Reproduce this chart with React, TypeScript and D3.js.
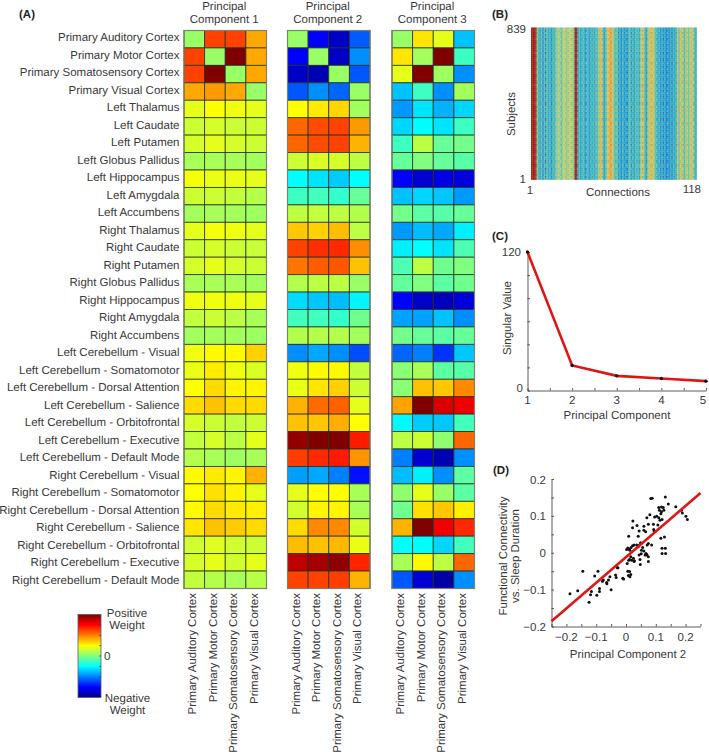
import * as d3 from 'd3';
import React, { useEffect, useRef } from 'react';

const regions = [
  'Primary Auditory Cortex', 'Primary Motor Cortex', 'Primary Somatosensory Cortex', 'Primary Visual Cortex',
  'Left Thalamus', 'Left Caudate', 'Left Putamen', 'Left Globus Pallidus', 'Left Hippocampus', 'Left Amygdala', 'Left Accumbens',
  'Right Thalamus', 'Right Caudate', 'Right Putamen', 'Right Globus Pallidus', 'Right Hippocampus', 'Right Amygdala', 'Right Accumbens',
  'Left Cerebellum - Visual', 'Left Cerebellum - Somatomotor', 'Left Cerebellum - Dorsal Attention', 'Left Cerebellum - Salience',
  'Left Cerebellum - Orbitofrontal', 'Left Cerebellum - Executive', 'Left Cerebellum - Default Mode',
  'Right Cerebellum - Visual', 'Right Cerebellum - Somatomotor', 'Right Cerebellum - Dorsal Attention', 'Right Cerebellum - Salience',
  'Right Cerebellum - Orbitofrontal', 'Right Cerebellum - Executive', 'Right Cerebellum - Default Mode',
];
const cortices = regions.slice(0, 4);

const pc1 = [
  [.05, .62, .62, .42], [.62, .05, 1, .42], [.62, 1, .05, .42], [.42, .45, .42, .05],
  [.2, .25, .22, .2], [.15, .17, .15, .15], [.17, .2, .17, .15], [.08, .08, .08, .07], [.23, .21, .21, .2], [.15, .15, .13, .1], [.07, .08, .07, .06],
  [.2, .23, .22, .2], [.15, .17, .15, .14], [.17, .2, .17, .15], [.08, .08, .08, .07], [.22, .22, .22, .2], [.13, .15, .12, .08], [.07, .07, .07, .06],
  [.22, .26, .26, .34], [.21, .29, .22, .18], [.25, .32, .27, .27], [.32, .37, .32, .32],
  [.17, .15, .13, .15], [.13, .17, .12, .2], [.1, .08, .06, .08],
  [.26, .29, .27, .4], [.25, .31, .27, .2], [.26, .32, .29, .28], [.3, .37, .35, .32],
  [.16, .19, .16, .15], [.17, .2, .16, .2], [.13, .1, .08, .11],
];
const pc2 = [
  [.05, -.75, -.88, -.57], [-.75, .05, -.88, -.47], [-.88, -.92, .05, -.58], [-.58, -.47, -.55, .05],
  [.25, .29, .33, .07], [.55, .6, .62, .45], [.55, .6, .62, .4], [.15, .18, .17, .12], [-.25, -.3, -.35, -.25], [-.13, -.12, -.15, -.05], [.12, .13, .12, .1],
  [.36, .34, .38, .12], [.62, .66, .67, .47], [.52, .57, .58, .37], [.1, .12, .12, .05], [-.32, -.36, -.38, -.27], [-.12, -.12, -.15, -.03], [.1, .1, .1, .07],
  [-.47, -.42, -.47, -.6], [.22, .26, .26, .13], [.21, .3, .34, .15], [.4, .54, .56, .2],
  [.37, .36, .41, .25], [.96, 1, 1, .7], [.63, .67, .7, .46],
  [-.44, -.42, -.5, -.72], [.2, .25, .25, .08], [.16, .27, .27, .08], [.32, .48, .48, .16],
  [.38, .37, .39, .21], [.88, .93, .97, .68], [.62, .62, .63, .4],
];
const pc3 = [
  [.05, .3, .2, -.37], [.3, .07, 1, -.13], [.2, 1, .06, -.47], [-.37, -.13, -.47, .07],
  [-.45, -.3, -.4, -.33], [-.33, -.25, -.3, -.13], [-.13, .12, -.05, -.02], [-.05, 0, -.05, -.08], [-.75, -.85, -.82, -.83], [-.37, -.33, -.36, -.45], [-.02, -.07, -.08, -.05],
  [-.45, -.38, -.42, -.28], [-.28, -.25, -.3, -.1], [-.1, .12, -.03, 0], [-.06, 0, -.07, -.03], [-.75, -.87, -.9, -.83], [-.43, -.43, -.37, -.47], [-.02, -.05, -.07, -.05],
  [-.55, -.5, -.65, -.36], [.02, .08, -.07, -.08], [.02, .37, .36, .48], [.43, 1, .82, .78],
  [-.26, -.35, -.36, -.12], [.12, .15, .03, .55], [-.5, -.85, -.92, -.47],
  [-.38, -.28, -.47, -.07], [.03, .2, .05, -.07], [-.03, .31, .36, .28], [.4, 1, .78, .67],
  [-.25, -.25, -.33, -.12], [.08, .26, .12, .55], [-.58, -.85, -.95, -.47],
];

// mean level of each of the 118 connections, on the 0-1 colour range
const connectionLevel = [
  .97, .97, .96, .93,
  .52, .4, .35, .48, .3, .46, .32, .48, .35, .44, .32, .42, .4, .48,
  .52, .58, .56, .48, .54, .6, .58, .52, .56, .62, .58, .56, .52,
  .95, .93,
  .35, .46, .33, .42, .46, .32, .4, .44, .33, .42, .38, .44, .36, .46,
  .44, .54, .68, .66, .42, .35, .46, .58, .68, .72, .7, .58, .46, .42, .48,
  .33, .4, .3, .42, .32, .38, .3,
  .42, .46, .35, .44, .33, .46, .4, .44, .38,
  .58, .68, .52, .4, .35, .54, .62, .7, .66, .58, .46,
  .44, .35, .42, .3, .4, .3, .38, .28, .36, .3, .4, .3, .42, .35, .4,
  .62, .46, .58, .68, .52, .44, .54, .64, .46, .6, .68, .56, .44, .38,
];
const subjectShift = [
  .04, -.06, .08, -.03, .02, -.08, .05, .09, -.04, -.07, .03, .06, -.09, .01, .07, -.02, -.05, .1, -.06, .02,
  .05, -.08, -.01, .08, -.04, .03, -.07, .06, .09, -.03, -.09, .04, .02, -.05, .07, -.02, .1, -.06, -.08, .03,
  .06, -.04, .01, .08, -.07, .05, -.03, -.09, .09, .02, -.05, .04, .07, -.08, -.01, .06, -.06, .03, .1, -.04,
  -.07, .05, .02, -.09, .08, -.02, .04, -.05, .07, .01, -.08, .06, -.03, .09, -.06, .03,
];
const connectionGain = [
  .7, -.4, .9, .2, -.7, .5, -.1, .8, -.6, .3, 1, -.3, .4, -.8, .6, .1, -.5, .9, -.2, .7, .2, -.9, .5, -.4, .8, .1, -.6, .3, .6,
];

const components = [1, 2, 3, 4, 5];
const singularValues = [120, 21.7, 12.7, 10.4, 8.1];

const pcScores = [
  -.188, -.162, -.145, -.124, -.119, -.116, -.105, -.098, -.094, -.089, -.089, -.079, -.076, -.065, -.064, -.059, -.05, -.054, -.035, -.033,
  -.029, -.027, -.011, -.008, .008, .013, .016, .006, .012, .004, .009, .012, .016, .019, .025, .028, .027, .047, .048, .051,
  .044, .052, .06, .056, .071, .075, .086, .067, .064, .07, .075, .069, .075, .006, .011, .013, .017, .022, .027, .002,
  .009, .022, .023, .037, .044, .041, .06, .06, .066, .075, .07, .08, .092, .093, .107, .096, .103, .11, .083, .088,
  .132, .142, .11, .119, .125, .112, .119, .127, .117, .121, .114, .095, .117, .129, .121, .132, .121, .133, .167, .186,
  .189, .201, .206, .036, .045, .049, .041,
];
const fcScores = [
  -.111, -.103, -.05, -.134, -.114, -.105, -.063, -.115, -.05, -.097, -.105, -.077, -.074, -.081, -.084, -.074, -.1, -.065, -.06, -.067,
  -.041, -.041, -.069, -.071, -.062, -.065, -.059, -.05, -.051, -.029, -.02, -.018, -.011, -.02, -.015, -.022, -.024, -.018, -.032, -.003,
  -.006, .007, .005, .014, .021, .025, .021, -.002, -.006, -.006, -.011, -.004, -.024, .013, .01, .007, .014, .019, .021, .009,
  .045, .068, .086, .074, .059, .045, .072, .061, .057, .077, .095, .103, .077, .063, .075, .097, .099, .095, .147, .148,
  .151, .132, .123, .124, .123, .115, .111, .115, .106, .09, .088, .058, .039, .043, .012, .012, -.002, -.002, .125, .115,
  .108, .099, .09, .021, .021, .027, .016,
];
const fitX = [-.25, .25];
const fitY = [-.186, .162];

const jet = d3.scaleLinear<string>()
  .domain([0, .125, .375, .625, .875, 1])
  .range(['#00008f', '#0000ff', '#00ffff', '#ffff00', '#ff0000', '#800000'])
  .clamp(true);
const weightColor = (v: number) => jet((v + 1) / 2);

// panel B reads as a washed out jet
const softJet = d3.scaleLinear<string>()
  .domain([.2, .33, .47, .62, .76, .95])
  .range(['#2058c0', '#20a0d8', '#62c4a8', '#cfd066', '#e89030', '#a02018'])
  .clamp(true);

const FONT = '"Liberation Sans", Arial, sans-serif';
const INK = '#3a3a3a';
const SIZE = 11.5;

const App = () => {
  const ref = useRef<SVGSVGElement>(null);

  useEffect(() => {
    const svg = d3.select(ref.current);
    svg.selectAll('*').remove();
    svg.style('font-family', FONT).style('text-rendering', 'geometricPrecision');

    const label = (x: number, y: number, txt: string, anchor = 'middle', rotate = false) => {
      const t = svg.append('text').text(txt).attr('font-size', SIZE).attr('text-anchor', anchor).attr('fill', INK);
      if (rotate) t.attr('transform', `translate(${x},${y}) rotate(-90)`);
      else t.attr('x', x).attr('y', y);
      return t;
    };
    const twoLines = (x: number, y: number, a: string, b: string, gap: number) => {
      const t = svg.append('text').attr('font-size', SIZE).attr('text-anchor', 'middle').attr('fill', INK);
      t.append('tspan').attr('x', x).attr('y', y).text(a);
      t.append('tspan').attr('x', x).attr('y', y + gap).text(b);
    };
    const panelTag = (x: number, y: number, txt: string) =>
      label(x, y, txt, 'start').attr('font-weight', 'bold').attr('fill', '#222');

    // (A) loadings
    panelTag(19, 18, '(A)');
    const top = 30.5;
    const bottom = 588.5;
    const rowY = d3.scaleBand<string>().domain(regions).range([top, bottom]);
    const labelY = d3.scalePoint<string>().domain(regions).range([37, 580]);
    regions.forEach(r => {
      label(179.5, labelY(r)! + 4, r, 'end');
    });

    const panels = [
      { data: pc1, x0: 184, x1: 266.5, name: 'Component 1' },
      { data: pc2, x0: 287.5, x1: 370, name: 'Component 2' },
      { data: pc3, x0: 392, x1: 474.5, name: 'Component 3' },
    ];
    panels.forEach(p => {
      const colX = d3.scaleBand<string>().domain(cortices).range([p.x0, p.x1]);
      const g = svg.append('g');
      p.data.forEach((row, ri) => {
        g.selectAll(null).data(row).enter().append('rect')
          .attr('x', (_, ci) => colX(cortices[ci])!)
          .attr('y', rowY(regions[ri])!)
          .attr('width', colX.bandwidth())
          .attr('height', rowY.bandwidth())
          .attr('fill', d => weightColor(d))
          .attr('stroke', '#23301e')
          .attr('stroke-opacity', .85)
          .attr('stroke-width', .9);
      });
      g.append('rect').attr('x', p.x0).attr('y', top).attr('width', p.x1 - p.x0).attr('height', bottom - top)
        .attr('fill', 'none').attr('stroke', '#7d8270').attr('stroke-width', 1.2);
      twoLines((p.x0 + p.x1) / 2 - 1, 10, 'Principal', p.name, 13);
      cortices.forEach(c => {
        label(colX(c)! + colX.bandwidth() / 2 + 1.7, 593, c, 'end', true);
      });
    });

    // colour key
    const keyY = d3.scaleLinear().domain([-1, 1]).range([697.5, 614.5]);
    const defs = svg.append('defs');
    const grad = defs.append('linearGradient').attr('id', 'jet-key').attr('x1', '0%').attr('y1', '100%').attr('x2', '0%').attr('y2', '0%');
    grad.selectAll('stop').data(jet.domain()).enter().append('stop')
      .attr('offset', d => `${d * 100}%`).attr('stop-color', d => jet(d));
    svg.append('rect').attr('x', 78).attr('y', keyY(1)).attr('width', 23).attr('height', keyY(-1) - keyY(1))
      .attr('fill', 'url(#jet-key)').attr('stroke', '#5a5a6a').attr('stroke-width', .8);
    svg.selectAll(null).data(d3.range(-.75, 1, .25)).enter().append('line')
      .attr('x1', 99).attr('x2', 101).attr('y1', d => keyY(d)).attr('y2', d => keyY(d))
      .attr('stroke', '#333').attr('stroke-width', .6);
    twoLines(127, 617, 'Positive', 'Weight', 11.5);
    label(104, 660, '0', 'start');
    twoLines(127.5, 702, 'Negative', 'Weight', 11.5);

    // (B) connections by subject
    panelTag(492, 18, '(B)');
    const cx = d3.scaleBand<number>().domain(d3.range(connectionLevel.length)).range([531, 696.5]);
    const sy = d3.scaleBand<number>().domain(d3.range(subjectShift.length)).range([179.5, 27.5]);
    defs.append('filter').attr('id', 'soft').attr('x', '0').attr('y', '0').attr('width', '100%').attr('height', '100%')
      .append('feGaussianBlur').attr('stdDeviation', .6);
    const heat = svg.append('g').attr('filter', 'url(#soft)');
    subjectShift.forEach((shift, s) => {
      heat.selectAll(null).data(connectionLevel).enter().append('rect')
        .attr('x', (_, c) => cx(c)!)
        .attr('y', sy(s)!)
        .attr('width', cx.bandwidth() + .3)
        .attr('height', sy.bandwidth() + .3)
        .attr('fill', (d, c) => softJet(d < .9 ? d + shift * connectionGain[c % connectionGain.length] : d + shift * .3));
    });
    label(526, 33, '839', 'end');
    label(526, 183, '1', 'end');
    label(515, 114, 'Subjects', 'middle', true);
    label(530, 194, '1');
    label(618, 195.5, 'Connections');
    label(701, 193, '118', 'end');

    // (C) scree plot
    panelTag(492, 240, '(C)');
    const xC = d3.scaleLinear().domain([1, 5]).range([527.5, 706]);
    const yC = d3.scaleLinear().domain([0, 120]).range([390.5, 252]);
    const gC = svg.append('g');
    gC.append('g').attr('transform', `translate(0,${yC(0)})`)
      .call(d3.axisBottom(xC).tickValues(d3.range(1, 5.01, .5)).tickSizeInner(-2.5).tickSizeOuter(0).tickFormat(() => ''));
    gC.append('g').attr('transform', `translate(${xC(1)},0)`)
      .call(d3.axisLeft(yC).tickValues(d3.range(0, 121, 20)).tickSizeInner(-2.5).tickSizeOuter(0).tickFormat(() => ''));
    gC.selectAll('.domain, .tick line').attr('stroke', '#333').attr('stroke-width', .8);
    const lineC = d3.line<number>().x((_, i) => xC(components[i])).y(d => yC(d));
    gC.append('path').attr('d', lineC(singularValues)).attr('fill', 'none').attr('stroke', '#e01515').attr('stroke-width', 2.6);
    gC.selectAll('circle').data(singularValues).enter().append('circle')
      .attr('cx', (_, i) => xC(components[i])).attr('cy', d => yC(d)).attr('r', 1.7).attr('fill', '#111');
    components.forEach(c => label(Math.min(xC(c), 703), 404, String(c)));
    label(521, 256, '120', 'end');
    label(523, 392, '0', 'end');
    label(511, 318, 'Singular Value', 'middle', true);
    label(617, 419, 'Principal Component');

    // (D) scatter
    panelTag(493, 474, '(D)');
    const xD = d3.scaleLinear().domain([-.25, .25]).range([551.5, 700.5]);
    const yD = d3.scaleLinear().domain([-.2, .2]).range([626.5, 479]);
    const gD = svg.append('g');
    gD.append('g').attr('transform', `translate(0,${yD(-.2)})`)
      .call(d3.axisBottom(xD).tickValues(d3.range(-.25, .2501, .05)).tickSizeInner(-2.5).tickSizeOuter(0).tickFormat(() => ''));
    gD.append('g').attr('transform', `translate(${xD(-.25)},0)`)
      .call(d3.axisLeft(yD).tickValues(d3.range(-.2, .2001, .05)).tickSizeInner(-2.5).tickSizeOuter(0).tickFormat(() => ''));
    gD.selectAll('.domain, .tick line').attr('stroke', '#333').attr('stroke-width', .8);
    gD.selectAll('circle').data(pcScores).enter().append('circle')
      .attr('cx', d => xD(d)).attr('cy', (_, i) => yD(fcScores[i])).attr('r', 1.5).attr('fill', '#111');
    gD.append('line').attr('x1', xD(fitX[0])).attr('y1', yD(fitY[0])).attr('x2', xD(fitX[1])).attr('y2', yD(fitY[1]))
      .attr('stroke', '#e01515').attr('stroke-width', 2.6);
    const fmt = (v: number) => (v < 0 ? '\u2212' : '') + (v === 0 ? '0' : d3.format('.1f')(Math.abs(v)));
    [-.2, -.1, 0, .1, .2].forEach(v => {
      label(xD(v), 641, fmt(v));
      label(546, yD(v) + 4.5, fmt(v), 'end');
    });
    label(628, 658, 'Principal Component 2');
    label(507, 556, 'Functional Connectivity', 'middle', true);
    label(519, 556, 'vs. Sleep Duration', 'middle', true);
  }, []);

  return <svg ref={ref} width={709} height={752} style={{ position: 'absolute', left: 0, top: 0 }} />;
};

export default App;
